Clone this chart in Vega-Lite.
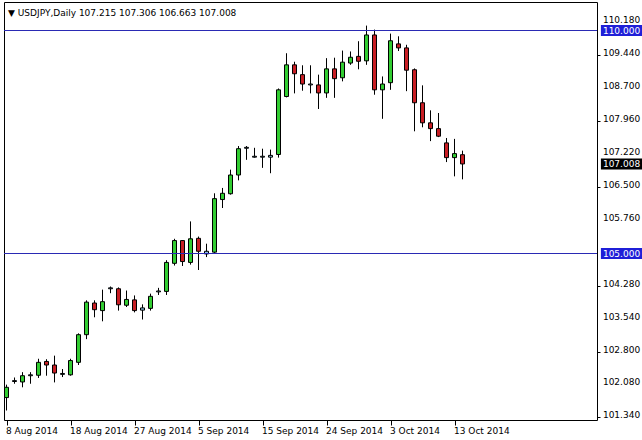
{
  "$schema": "https://vega.github.io/schema/vega-lite/v6.json",
  "autosize": "none",
  "width": 593,
  "height": 418,
  "padding": {"left": 4, "top": 2, "right": 45, "bottom": 20},
  "background": "white",
  "title": {
    "text": "▼  USDJPY,Daily  107.215 107.306 106.663 107.008",
    "anchor": "start",
    "frame": "group",
    "offset": -16,
    "dx": 4,
    "font": "DejaVu Sans",
    "fontSize": 9,
    "fontWeight": "normal",
    "color": "black"
  },
  "datasets": {
    "candles": [
      {"i": 0, "date": "2014-08-08", "open": 101.77, "high": 102.06, "low": 101.48, "close": 102.00},
      {"i": 1, "date": "2014-08-10", "open": 102.13, "high": 102.22, "low": 102.08, "close": 102.15},
      {"i": 2, "date": "2014-08-11", "open": 102.12, "high": 102.34, "low": 102.00, "close": 102.26},
      {"i": 3, "date": "2014-08-12", "open": 102.26, "high": 102.34, "low": 102.08, "close": 102.28},
      {"i": 4, "date": "2014-08-13", "open": 102.27, "high": 102.64, "low": 102.21, "close": 102.56},
      {"i": 5, "date": "2014-08-14", "open": 102.58, "high": 102.63, "low": 102.26, "close": 102.50},
      {"i": 6, "date": "2014-08-15", "open": 102.50, "high": 102.71, "low": 102.11, "close": 102.32},
      {"i": 7, "date": "2014-08-17", "open": 102.29, "high": 102.41, "low": 102.23, "close": 102.31},
      {"i": 8, "date": "2014-08-18", "open": 102.28, "high": 102.64, "low": 102.26, "close": 102.60},
      {"i": 9, "date": "2014-08-19", "open": 102.56, "high": 103.21, "low": 102.50, "close": 103.18},
      {"i": 10, "date": "2014-08-20", "open": 103.18, "high": 103.95, "low": 103.08, "close": 103.91},
      {"i": 11, "date": "2014-08-21", "open": 103.89, "high": 103.95, "low": 103.57, "close": 103.74},
      {"i": 12, "date": "2014-08-22", "open": 103.72, "high": 104.19, "low": 103.48, "close": 103.92},
      {"i": 13, "date": "2014-08-24", "open": 104.21, "high": 104.26, "low": 104.11, "close": 104.23},
      {"i": 14, "date": "2014-08-25", "open": 104.21, "high": 104.24, "low": 103.72, "close": 103.85},
      {"i": 15, "date": "2014-08-26", "open": 103.84, "high": 104.17, "low": 103.80, "close": 103.97},
      {"i": 16, "date": "2014-08-27", "open": 103.96, "high": 104.06, "low": 103.68, "close": 103.72},
      {"i": 17, "date": "2014-08-28", "open": 103.73, "high": 103.86, "low": 103.52, "close": 103.78},
      {"i": 18, "date": "2014-08-29", "open": 103.77, "high": 104.10, "low": 103.72, "close": 104.04},
      {"i": 19, "date": "2014-08-31", "open": 104.14, "high": 104.23, "low": 104.07, "close": 104.16},
      {"i": 20, "date": "2014-09-01", "open": 104.15, "high": 104.85, "low": 104.07, "close": 104.80},
      {"i": 21, "date": "2014-09-02", "open": 104.78, "high": 105.33, "low": 104.73, "close": 105.29},
      {"i": 22, "date": "2014-09-03", "open": 105.29, "high": 105.30, "low": 104.72, "close": 104.82},
      {"i": 23, "date": "2014-09-04", "open": 104.80, "high": 105.72, "low": 104.75, "close": 105.33},
      {"i": 24, "date": "2014-09-05", "open": 105.34, "high": 105.38, "low": 104.63, "close": 105.05},
      {"i": 25, "date": "2014-09-07", "open": 104.99, "high": 105.22, "low": 104.92, "close": 105.05},
      {"i": 26, "date": "2014-09-08", "open": 105.03, "high": 106.35, "low": 105.01, "close": 106.23},
      {"i": 27, "date": "2014-09-09", "open": 106.21, "high": 106.47, "low": 106.02, "close": 106.35},
      {"i": 28, "date": "2014-09-10", "open": 106.34, "high": 106.88, "low": 106.32, "close": 106.76},
      {"i": 29, "date": "2014-09-11", "open": 106.76, "high": 107.41, "low": 106.64, "close": 107.35},
      {"i": 30, "date": "2014-09-12", "open": 107.36, "high": 107.41, "low": 107.10, "close": 107.38},
      {"i": 31, "date": "2014-09-14", "open": 107.16, "high": 107.37, "low": 107.15, "close": 107.18},
      {"i": 32, "date": "2014-09-15", "open": 107.16, "high": 107.35, "low": 106.92, "close": 107.18},
      {"i": 33, "date": "2014-09-16", "open": 107.16, "high": 107.33, "low": 106.80, "close": 107.20},
      {"i": 34, "date": "2014-09-17", "open": 107.22, "high": 108.70, "low": 107.15, "close": 108.67},
      {"i": 35, "date": "2014-09-18", "open": 108.52, "high": 109.49, "low": 108.50, "close": 109.23},
      {"i": 36, "date": "2014-09-19", "open": 109.23, "high": 109.30, "low": 108.59, "close": 109.03},
      {"i": 37, "date": "2014-09-21", "open": 109.01, "high": 109.22, "low": 108.65, "close": 108.80},
      {"i": 38, "date": "2014-09-22", "open": 108.78, "high": 109.22, "low": 108.59, "close": 108.80},
      {"i": 39, "date": "2014-09-23", "open": 108.78, "high": 109.01, "low": 108.24, "close": 108.60},
      {"i": 40, "date": "2014-09-24", "open": 108.60, "high": 109.38, "low": 108.49, "close": 109.14},
      {"i": 41, "date": "2014-09-25", "open": 109.14, "high": 109.39, "low": 108.49, "close": 108.92},
      {"i": 42, "date": "2014-09-26", "open": 108.94, "high": 109.55, "low": 108.86, "close": 109.29},
      {"i": 43, "date": "2014-09-28", "open": 109.27, "high": 109.53, "low": 109.23, "close": 109.40},
      {"i": 44, "date": "2014-09-29", "open": 109.42, "high": 109.76, "low": 109.13, "close": 109.31},
      {"i": 45, "date": "2014-09-30", "open": 109.32, "high": 110.11, "low": 109.23, "close": 109.90},
      {"i": 46, "date": "2014-10-01", "open": 109.90, "high": 110.02, "low": 108.56, "close": 108.67},
      {"i": 47, "date": "2014-10-02", "open": 108.67, "high": 108.97, "low": 108.02, "close": 108.80},
      {"i": 48, "date": "2014-10-03", "open": 108.83, "high": 109.93, "low": 108.67, "close": 109.77},
      {"i": 49, "date": "2014-10-05", "open": 109.70, "high": 109.87, "low": 109.54, "close": 109.61},
      {"i": 50, "date": "2014-10-06", "open": 109.61, "high": 109.68, "low": 108.64, "close": 109.11},
      {"i": 51, "date": "2014-10-07", "open": 109.12, "high": 109.15, "low": 107.74, "close": 108.38},
      {"i": 52, "date": "2014-10-08", "open": 108.38, "high": 108.77, "low": 107.83, "close": 107.93},
      {"i": 53, "date": "2014-10-09", "open": 107.93, "high": 108.21, "low": 107.52, "close": 107.80},
      {"i": 54, "date": "2014-10-10", "open": 107.80, "high": 108.15, "low": 107.61, "close": 107.63},
      {"i": 55, "date": "2014-10-12", "open": 107.48, "high": 107.59, "low": 107.05, "close": 107.15},
      {"i": 56, "date": "2014-10-13", "open": 107.15, "high": 107.57, "low": 106.73, "close": 107.24},
      {"i": 57, "date": "2014-10-14", "open": 107.215, "high": 107.306, "low": 106.663, "close": 107.008}
    ],
    "levels": [
      {"price": 110.0, "kind": "hline"},
      {"price": 105.0, "kind": "hline"}
    ],
    "ticks": [
      {"price": 110.18}, {"price": 109.44}, {"price": 108.7}, {"price": 107.96},
      {"price": 107.22}, {"price": 106.5}, {"price": 105.76}, {"price": 104.28},
      {"price": 103.54}, {"price": 102.8}, {"price": 102.08}, {"price": 101.34}
    ],
    "tags": [
      {"price": 110.0, "kind": "hline"},
      {"price": 105.0, "kind": "hline"},
      {"price": 107.008, "kind": "last"}
    ]
  },
  "layer": [
    {
      "data": {"name": "candles"},
      "mark": {"type": "rule", "color": "black", "strokeWidth": 1},
      "encoding": {
        "x": {
          "field": "i", "type": "quantitative",
          "scale": {"domain": [-0.3125, 73.8125], "nice": false, "zero": false, "padding": 0},
          "title": null,
          "axis": {
            "orient": "bottom",
            "values": [0, 8, 16, 24, 32, 40, 48, 56],
            "labelExpr": "['8 Aug 2014','18 Aug 2014','27 Aug 2014','5 Sep 2014','15 Sep 2014','24 Sep 2014','3 Oct 2014','13 Oct 2014'][round(datum.value/8)]",
            "labelAlign": "left",
            "labelBaseline": "top",
            "labelPadding": 1,
            "labelOffset": -1,
            "labelOverlap": false,
            "labelFlush": false,
            "labelBound": false,
            "labelFont": "DejaVu Sans",
            "labelFontSize": 9,
            "labelColor": "black",
            "tickSize": 5,
            "tickColor": "black",
            "domain": false,
            "grid": false
          }
        },
        "y": {
          "field": "low", "type": "quantitative",
          "scale": {"domain": [101.267, 110.639], "nice": false, "zero": false, "padding": 0},
          "title": null,
          "axis": {
            "orient": "right",
            "values": [110.18, 109.44, 108.7, 107.96, 107.22, 106.5, 105.76, 104.28, 103.54, 102.8, 102.08, 101.34],
            "labels": false,
            "tickSize": 3,
            "tickColor": "black",
            "domain": false,
            "grid": false
          }
        },
        "y2": {"field": "high"}
      }
    },
    {
      "data": {"name": "candles"},
      "mark": {"type": "bar", "size": 4, "stroke": "black", "strokeWidth": 1},
      "encoding": {
        "x": {"field": "i", "type": "quantitative", "title": null},
        "y": {"field": "open", "type": "quantitative", "title": null},
        "y2": {"field": "close"},
        "color": {
          "condition": [
            {"test": "abs(datum.close - datum.open) < 0.065", "value": "#8FC4E8"},
            {"test": "datum.close > datum.open", "value": "#32CD32"}
          ],
          "value": "#C81E24"
        }
      }
    },
    {
      "data": {"name": "levels"},
      "mark": {"type": "rule", "color": "#2A2AB4", "strokeWidth": 1},
      "encoding": {
        "y": {"field": "price", "type": "quantitative", "title": null}
      }
    },
    {
      "data": {"name": "ticks"},
      "mark": {"type": "text", "align": "left", "baseline": "middle", "dy": -2, "font": "DejaVu Sans", "fontSize": 9, "color": "black"},
      "encoding": {
        "x": {"datum": 74.55},
        "y": {"field": "price", "type": "quantitative", "title": null},
        "text": {"field": "price", "type": "quantitative", "format": ".3f"}
      }
    },
    {
      "data": {"name": "tags"},
      "mark": {"type": "bar", "size": 11},
      "encoding": {
        "x": {"datum": 74.3},
        "x2": {"datum": 79.6},
        "y": {"field": "price", "type": "quantitative", "title": null},
        "color": {
          "condition": {"test": "datum.kind == 'last'", "value": "black"},
          "value": "#1F1FD8"
        }
      }
    },
    {
      "data": {"name": "tags"},
      "mark": {"type": "text", "align": "left", "baseline": "middle", "font": "DejaVu Sans", "fontSize": 9, "color": "white"},
      "encoding": {
        "x": {"datum": 74.55},
        "y": {"field": "price", "type": "quantitative", "title": null},
        "text": {"field": "price", "type": "quantitative", "format": ".3f"}
      }
    }
  ],
  "config": {
    "view": {"stroke": "black", "strokeWidth": 1},
    "scale": {"continuousPadding": 0}
  }
}
